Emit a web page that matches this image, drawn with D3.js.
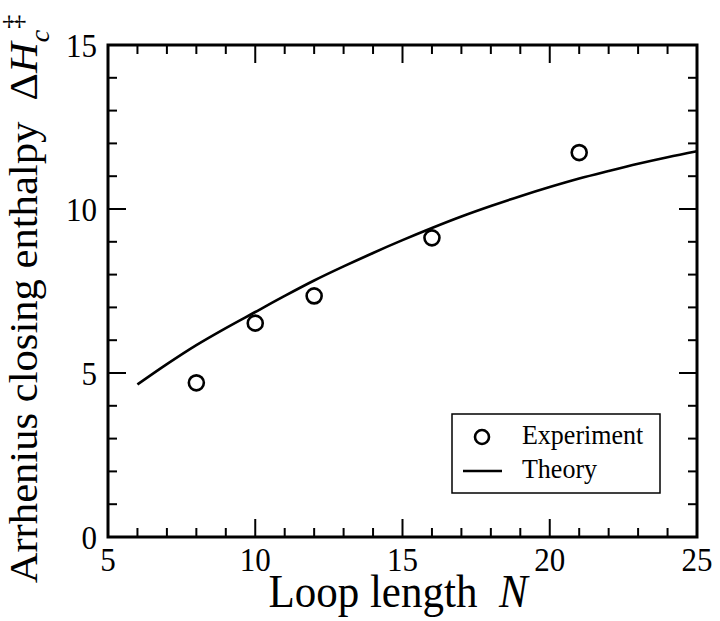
<!DOCTYPE html>
<html><head><meta charset="utf-8">
<script src="https://cdn.jsdelivr.net/npm/d3@7"></script>
<style>body{margin:0;background:#fff}svg{display:block}text{font-family:"Liberation Serif","Times New Roman",serif;fill:#000}</style>
</head><body>
<script>
const xTicks = [5, 10, 15, 20, 25];
const yTicks = [0, 5, 10, 15];
const expN = [8, 10, 12, 16, 21];
const expH = [4.7, 6.52, 7.35, 9.12, 11.72];
const theoryN = [6, 7, 8, 9, 10, 11, 12, 13, 14, 15, 16, 17, 18, 19, 20, 21, 22, 23, 24, 25];
const theoryH = [4.65, 5.27, 5.85, 6.37, 6.86, 7.35, 7.82, 8.25, 8.66, 9.05, 9.42, 9.77, 10.09, 10.39, 10.67, 10.93, 11.16, 11.38, 11.58, 11.76];
const legendLabels = ["Experiment", "Theory"];

const W = 720, H = 621;
const svg = d3.select("body").append("svg").attr("width", W).attr("height", H);
const x = d3.scaleLinear().domain([5, 25]).range([108, 697]);
const y = d3.scaleLinear().domain([0, 15]).range([537, 45]);

const minorX = d3.range(5, 26, 1), minorY = d3.range(0, 16, 1);
const g = svg.append("g");
// ticks (inside, mirrored)
const tk = g.append("g").attr("stroke", "#000").attr("stroke-width", 2);
minorX.forEach(v => {
  const L = v % 5 === 0 ? 18 : 9;
  tk.append("line").attr("x1", x(v)).attr("x2", x(v)).attr("y1", y(0)).attr("y2", y(0) - L);
  tk.append("line").attr("x1", x(v)).attr("x2", x(v)).attr("y1", y(15)).attr("y2", y(15) + L);
});
minorY.forEach(v => {
  const L = v % 5 === 0 ? 18 : 9;
  tk.append("line").attr("y1", y(v)).attr("y2", y(v)).attr("x1", x(5)).attr("x2", x(5) + L);
  tk.append("line").attr("y1", y(v)).attr("y2", y(v)).attr("x1", x(25)).attr("x2", x(25) - L);
});
// frame
g.append("rect").attr("x", x(5)).attr("y", y(15)).attr("width", x(25) - x(5)).attr("height", y(0) - y(15))
  .attr("fill", "none").attr("stroke", "#000").attr("stroke-width", 3);

// tick labels
xTicks.forEach(v => g.append("text").attr("transform", `translate(${x(v)},571) scale(1,1.08)`)
  .attr("text-anchor", "middle").attr("font-size", 31).text(v));
yTicks.forEach(v => g.append("text").attr("transform", `translate(97,${y(v) + 12}) scale(1,1.08)`)
  .attr("text-anchor", "end").attr("font-size", 31).text(v));

// theory line
const line = d3.line().x(d => x(d[0])).y(d => y(d[1])).curve(d3.curveMonotoneX);
g.append("path").datum(theoryN.map((n, i) => [n, theoryH[i]])).attr("d", line)
  .attr("fill", "none").attr("stroke", "#000").attr("stroke-width", 2.6);

// experiment circles
g.selectAll("circle.exp").data(expN.map((n, i) => [n, expH[i]])).enter().append("circle")
  .attr("cx", d => x(d[0])).attr("cy", d => y(d[1])).attr("r", 7.5)
  .attr("fill", "none").attr("stroke", "#000").attr("stroke-width", 2.6);

// legend
const lg = g.append("g");
lg.append("rect").attr("x", 452).attr("y", 414).attr("width", 208).attr("height", 79)
  .attr("fill", "#fff").attr("stroke", "#000").attr("stroke-width", 1.5);
lg.append("circle").attr("cx", 482).attr("cy", 437).attr("r", 7).attr("fill", "none")
  .attr("stroke", "#000").attr("stroke-width", 2.6);
lg.append("line").attr("x1", 463).attr("x2", 502).attr("y1", 471).attr("y2", 471)
  .attr("stroke", "#000").attr("stroke-width", 2.6);
lg.append("text").attr("transform", "translate(522,444) scale(1,1.05)").attr("font-size", 26).text(legendLabels[0]);
lg.append("text").attr("transform", "translate(522,478) scale(1,1.05)").attr("font-size", 26).text(legendLabels[1]);

// x title
const xt = g.append("text").attr("transform", "translate(398,607) scale(1,1.1)").attr("text-anchor", "middle").attr("font-size", 43);
xt.append("tspan").text("Loop length\u00a0\u00a0");
xt.append("tspan").attr("font-style", "italic").text("N");

// y title
const yt = g.append("text").attr("transform", "translate(37,299) rotate(-90) scale(1.04,1)").attr("text-anchor", "middle").attr("font-size", 41);
yt.append("tspan").text("Arrhenius closing enthalpy\u00a0\u00a0\u0394");
yt.append("tspan").attr("font-style", "italic").text("H");
yt.append("tspan").attr("font-style", "italic").attr("font-size", 27).attr("dy", 12).text("c");
yt.append("tspan").attr("font-size", 27).attr("dy", -27).attr("dx", 1).text("\u2021");
</script>
</body></html>
